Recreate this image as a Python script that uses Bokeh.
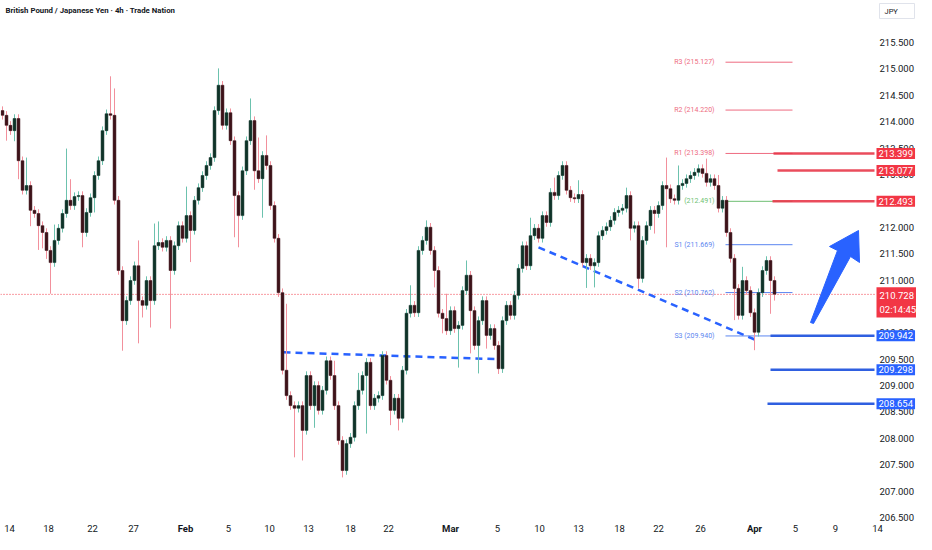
from bokeh.plotting import figure
from bokeh.models import Range1d, Label, ColumnDataSource
from bokeh.core.properties import value
from bokeh.embed import file_html
from bokeh.resources import INLINE

title_text = "British Pound / Japanese Yen · 4h · Trade Nation"

# ---- candle data (4h bars) ----
first_open = 214.21
closes = [
    214.12, 213.93, 213.83, 214.06, 213.26, 212.70, 212.79, 212.32, 212.26, 212.03,
    211.90, 211.56, 211.33, 211.75, 211.98, 212.26, 212.51, 212.41, 212.58, 212.60,
    211.90, 212.28, 212.56, 212.98, 213.26, 213.83, 214.15, 214.12, 212.51, 211.18,
    210.23, 210.61, 210.99, 211.27, 210.61, 210.52, 210.99, 210.61, 211.65, 211.71,
    211.62, 211.75, 211.18, 211.65, 212.03, 211.79, 212.22, 211.94, 212.51, 212.75,
    212.98, 213.17, 213.32, 214.21, 214.69, 213.93, 214.17, 213.64, 212.60, 212.22,
    213.07, 213.64, 214.02, 213.07, 212.92, 213.36, 213.17, 212.41, 211.79, 210.76,
    209.29, 208.81, 208.62, 208.57, 208.62, 208.15, 209.19, 208.62, 209.00, 208.53,
    208.91, 209.47, 209.19, 208.62, 207.96, 207.39, 207.90, 208.02, 208.62, 208.91,
    209.19, 209.44, 208.62, 208.76, 208.81, 209.57, 209.10, 208.53, 208.76, 208.38,
    209.29, 210.37, 210.52, 210.38, 211.56, 211.75, 212.00, 211.56, 211.18, 210.37,
    210.27, 210.04, 210.42, 210.08, 210.14, 210.80, 211.09, 210.42, 209.76, 210.23,
    210.61, 209.95, 210.08, 209.76, 209.32, 210.23, 210.52, 210.33, 210.71, 211.22,
    211.65, 211.27, 211.84, 211.98, 211.79, 212.22, 212.09, 212.66, 212.60, 212.98,
    213.17, 212.70, 212.56, 212.54, 212.62, 211.33, 211.41, 211.27, 211.33, 211.84,
    211.94, 212.01, 212.13, 212.28, 212.32, 212.36, 212.60, 211.98, 212.03, 211.03,
    211.75, 212.03, 212.32, 212.26, 212.41, 212.79, 212.73, 212.54, 212.51, 212.79,
    212.83, 212.92, 212.98, 213.04, 213.11, 213.02, 212.85, 212.92, 212.79, 212.36,
    212.51, 211.90, 211.41, 210.84, 210.33, 210.99, 210.80, 210.38, 210.01, 210.76,
    211.18, 211.37, 210.99, 210.73,
]
typical_wick = 0.08
upper_wicks = {6: 0.53, 13: 0.30, 16: 0.98, 17: 0.40, 27: 0.71, 28: 0.51, 34: 0.48,
               38: 0.42, 39: 0.40, 46: 0.55, 54: 0.32, 62: 0.42, 64: 0.63, 66: 0.38,
               71: 1.26, 83: 0.28, 89: 0.33, 102: 0.38, 106: 0.13, 111: 0.47,
               116: 0.28, 132: 0.34, 138: 0.28, 144: 0.27, 156: 0.15, 166: 0.53,
               169: 0.38, 176: 0.28, 179: 0.20, 185: 0.26}
lower_wicks = {1: 0.29, 3: 0.20, 4: 0.35, 7: 0.30, 9: 0.46, 10: 0.30, 11: 0.16,
               12: 0.59, 20: 0.28, 23: 0.28, 30: 0.57, 34: 0.81, 35: 0.23, 37: 0.51,
               42: 1.10, 47: 0.60, 58: 0.79, 59: 0.60, 63: 0.36, 65: 0.74, 73: 0.93,
               75: 0.57, 78: 0.42, 85: 0.13, 91: 1.10, 97: 0.28, 99: 0.23, 108: 0.32,
               110: 0.28, 114: 0.74, 117: 0.81, 119: 0.53, 121: 0.25, 124: 0.10,
               146: 0.48, 148: 0.41, 157: 0.23, 159: 0.19, 163: 0.38, 166: 1.11,
               183: 0.60, 188: 0.34, 192: 0.63, 193: 0.12}

last_price = 210.728
countdown = "02:14:45"

# pivot points
pivot_names = ["R3", "R2", "R1", "", "S1", "S2", "S3"]
pivot_levels = [215.127, 214.220, 213.398, 212.491, 211.669, 210.762, 209.940]
pivot_kind = ["r", "r", "r", "p", "s", "s", "s"]

# horizontal levels
resist_levels = [213.399, 213.077, 212.493]
resist_start = [192.75, 193.75, 192.5]
support_levels = [209.942, 209.298, 208.654]
support_start = [192.0, 192.0, 191.25]

# trendlines (bar index, price)
trend1_x = [70.25, 123.75]
trend1_y = [209.63, 209.50]
trend2_x = [134.0, 188.75]
trend2_y = [211.62, 209.85]

# arrow outline (bar index, price)
arrow_x = [202.0, 208.75, 206.75, 214.0, 214.25, 212.0, 202.75]
arrow_y = [210.195, 211.559, 211.635, 211.938, 211.332, 211.446, 210.176]

# axis ticks
x_tick_pos = [1.75, 11.5, 22.5, 32.75, 56.5, 66.75, 76.5, 87.0, 96.5,
              123.75, 134.25, 144.0, 154.25, 164.0, 174.5, 198.25, 208.25, 218.75]
x_tick_lbl = ["14", "18", "22", "27", "5", "10", "13", "18", "22",
              "5", "10", "13", "18", "22", "26", "5", "9", "14"]
month_pos = [45.75, 112.0, 188.0]
month_lbl = ["Feb", "Mar", "Apr"]
y_ticks = [206.5, 207.0, 207.5, 208.0, 208.5, 209.0, 209.5, 210.0, 210.5,
           211.0, 211.5, 212.0, 212.5, 213.0, 213.5, 214.0, 214.5, 215.0, 215.5]

# layout of the chart area in (bar index, price) space
X_LO, X_HI = -0.5, 228.5         # whole canvas width
Y_LO, Y_HI = 206.178, 216.296    # whole canvas height
PLOT_RIGHT = 218.0               # right edge of the price pane
SCALE_X = 219.25                 # left of the price-scale labels
TAG_X = 218.5                    # left of the price tags
DATE_Y = 206.30                  # date labels row
TOP_Y = 216.106                  # title row
TITLE_X = 0.75
JPY_BOX = (219.25, 228.0, 215.955, 216.239)   # left, right, bottom, top

# ---- colours ----
UP_WICK, DN_WICK = "#6cc2ae", "#f2909c"
UP_BODY, DN_BODY = "#0f3328", "#3d1219"
RED, BLUE = "#f23645", "#2962ff"
R_COL, P_COL, S_COL = "#ee6b80", "#6fbf73", "#5b86f0"
FONT = "Roboto"
TXT = "#131722"

n = len(closes)
xs = list(range(n))
opens = [first_open] + closes[:-1]
highs, lows, tops, bots, wcol, bcol = [], [], [], [], [], []
for i, (o, c) in enumerate(zip(opens, closes)):
    hi, lo = max(o, c), min(o, c)
    tops.append(hi)
    bots.append(lo)
    highs.append(hi + upper_wicks.get(i, typical_wick))
    lows.append(lo - lower_wicks.get(i, typical_wick))
    up = c >= o
    wcol.append(UP_WICK if up else DN_WICK)
    bcol.append(UP_BODY if up else DN_BODY)

src = ColumnDataSource(dict(x=xs, h=highs, l=lows, top=tops, bottom=bots, wick=wcol, body=bcol))

p = figure(width=916, height=534, x_range=Range1d(X_LO, X_HI), y_range=Range1d(Y_LO, Y_HI),
           output_backend="svg", toolbar_location=None,
           min_border_left=0, min_border_top=0, min_border_right=0, min_border_bottom=0,
           background_fill_color="white", border_fill_color="white", outline_line_color=None)
p.grid.visible = False
p.xaxis.visible = False
p.yaxis.visible = False

# price scale labels
p.text(x=[SCALE_X] * len(y_ticks), y=y_ticks, text=["%.3f" % t for t in y_ticks],
       text_font=value(FONT), text_font_size="9.5px", text_color=TXT,
       text_align="left", text_baseline="middle")
# date labels
p.text(x=x_tick_pos, y=[DATE_Y] * len(x_tick_pos), text=x_tick_lbl,
       text_font=value(FONT), text_font_size="9.5px", text_color=TXT,
       text_align="center", text_baseline="middle")
p.text(x=month_pos, y=[DATE_Y] * len(month_pos), text=month_lbl,
       text_font=value(FONT), text_font_size="9.5px", text_color=TXT, text_font_style="bold",
       text_align="center", text_baseline="middle")

# currency box
p.quad(left=[JPY_BOX[0]], right=[JPY_BOX[1]], bottom=[JPY_BOX[2]], top=[JPY_BOX[3]],
       fill_color="white", line_color="#e0e3eb", line_width=1)
p.text(x=[JPY_BOX[0] + 1.25], y=[(JPY_BOX[2] + JPY_BOX[3]) / 2], text=["JPY"],
       text_font=value(FONT), text_font_size="7.5px", text_color=TXT,
       text_align="left", text_baseline="middle")

# current price dotted line
p.segment(x0=[X_LO], y0=[last_price], x1=[PLOT_RIGHT], y1=[last_price],
          line_color=RED, line_dash="1 2", line_width=1)

# trendlines
p.line(trend1_x, trend1_y, line_color=BLUE, line_width=2.5, line_dash="7 5")
p.line(trend2_x, trend2_y, line_color=BLUE, line_width=2.5, line_dash="7 5")

# pivot thin lines
pcol = {"r": R_COL, "p": P_COL, "s": S_COL}
p.segment(x0=[180.75] * len(pivot_levels), y0=pivot_levels, x1=[197.5] * len(pivot_levels),
          y1=pivot_levels, line_color=[pcol[k] for k in pivot_kind], line_width=1)

# candles
p.segment(x0="x", y0="l", x1="x", y1="h", line_color="wick", line_width=1, source=src)
p.vbar(x="x", width=0.72, top="top", bottom="bottom", fill_color="body",
       line_color="body", line_width=0.5, source=src)

# thick horizontal levels
p.segment(x0=resist_start, y0=resist_levels, x1=[PLOT_RIGHT] * 3, y1=resist_levels,
          line_color="#e8394a", line_width=2.5, line_alpha=0.9)
p.segment(x0=support_start, y0=support_levels, x1=[PLOT_RIGHT] * 3, y1=support_levels,
          line_color="#2f5fe0", line_width=2.5)

# arrow
p.patch(arrow_x, arrow_y, fill_color=BLUE, line_color=BLUE, line_width=1)

# pivot labels
for name, lvl, k in zip(pivot_names, pivot_levels, pivot_kind):
    txt = (name + " " if name else "") + "(%.3f)" % lvl
    p.add_layout(Label(x=178, y=lvl, text=txt, text_align="right", text_baseline="middle",
                       text_font=FONT, text_font_size="7px", text_color=pcol[k]))

# title
p.add_layout(Label(x=TITLE_X, y=TOP_Y, text=title_text, text_font=FONT, text_font_size="7.8px",
                   text_font_style="bold", text_color=TXT, text_baseline="middle"))

# right price tags
for lvl in resist_levels:
    p.add_layout(Label(x=TAG_X, y=lvl, text="%.3f" % lvl, text_baseline="middle",
                       text_font=FONT, text_font_size="9.5px", text_color="white",
                       background_fill_color=RED, padding=2))
for lvl in support_levels:
    p.add_layout(Label(x=TAG_X, y=lvl, text="%.3f" % lvl, text_baseline="middle",
                       text_font=FONT, text_font_size="9.5px", text_color="white",
                       background_fill_color=BLUE, padding=2))
p.add_layout(Label(x=TAG_X, y=last_price, text="%.3f\n%s" % (last_price, countdown),
                   text_baseline="top", text_font=FONT, text_font_size="9.5px", text_color="white",
                   background_fill_color=RED, padding=3, y_offset=7))

open("out.html", "w").write(file_html(p, INLINE))
